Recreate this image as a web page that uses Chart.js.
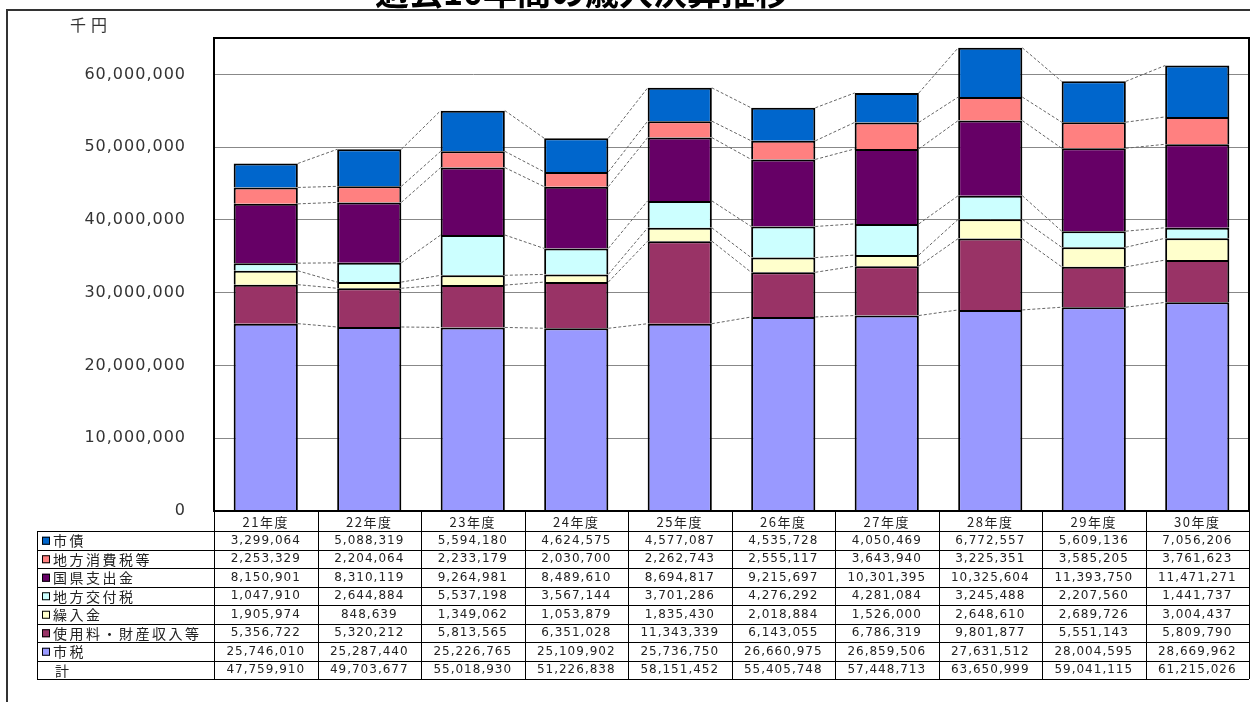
<!DOCTYPE html>
<html lang="ja">
<head>
<meta charset="utf-8">
<title>過去10年間の歳入決算推移</title>
<script src="https://cdn.jsdelivr.net/npm/chart.js@4.4.1/dist/chart.umd.min.js"></script>
<style>
  html, body { margin: 0; padding: 0; background: #fff; overflow: hidden; }
  canvas { display: block; }
</style>
</head>
<body>
<canvas id="revenueChart" width="1250" height="702"></canvas>
<script>
const years = ["21年度", "22年度", "23年度", "24年度", "25年度", "26年度", "27年度", "28年度", "29年度", "30年度"];
const shizei = [25746010, 25287440, 25226765, 25109902, 25736750, 26660975, 26859506, 27631512, 28004595, 28669962];
const shiyoryo = [5356722, 5320212, 5813565, 6351028, 11343339, 6143055, 6786319, 9801877, 5551143, 5809790];
const kurire = [1905974, 848639, 1349062, 1053879, 1835430, 2018884, 1526000, 2648610, 2689726, 3004437];
const chihoKofu = [1047910, 2644884, 5537198, 3567144, 3701286, 4276292, 4281084, 3245488, 2207560, 1441737];
const kokken = [8150901, 8310119, 9264981, 8489610, 8694817, 9215697, 10301395, 10325604, 11393750, 11471271];
const chihoShohi = [2253329, 2204064, 2233179, 2030700, 2262743, 2555117, 3643940, 3225351, 3585205, 3761623];
const shisai = [3299064, 5088319, 5594180, 4624575, 4577087, 4535728, 4050469, 6772557, 5609136, 7056206];
const totals = [47759910, 49703677, 55018930, 51226838, 58151452, 55405748, 57448713, 63650999, 59041115, 61215026];
const yTicks = [0, 10000000, 20000000, 30000000, 40000000, 50000000, 60000000];

const titleText = "過去10年間の歳入決算推移";
const unitText = "千円";
const cjkFont = "'Noto Sans CJK JP', 'Noto Sans', sans-serif";
const numFont = "'DejaVu Sans', sans-serif";

// bottom -> top stacking order
const series = [
  { name: "市税", color: "#9999FF", data: shizei },
  { name: "使用料・財産収入等", color: "#993366", data: shiyoryo },
  { name: "繰入金", color: "#FFFFCC", data: kurire },
  { name: "地方交付税", color: "#CCFFFF", data: chihoKofu },
  { name: "国県支出金", color: "#660066", data: kokken },
  { name: "地方消費税等", color: "#FF8080", data: chihoShohi },
  { name: "市債", color: "#0066CC", data: shisai },
];

const fmt = (v) => v.toLocaleString("en-US");

// dashed series lines joining the top of each segment between bars
const seriesLines = {
  id: "seriesLines",
  afterDatasetsDraw(chart) {
    const ctx = chart.ctx;
    ctx.save();
    ctx.strokeStyle = "#666";
    ctx.lineWidth = 1;
    ctx.setLineDash([3, 2]);
    chart.data.datasets.forEach((ds, d) => {
      const bars = chart.getDatasetMeta(d).data;
      for (let i = 0; i < bars.length - 1; i++) {
        const a = bars[i], b = bars[i + 1];
        ctx.beginPath();
        ctx.moveTo(a.x + a.width / 2, a.y);
        ctx.lineTo(b.x - b.width / 2, b.y);
        ctx.stroke();
      }
    });
    ctx.restore();
  },
};

// frame, title, unit label and the data table under the plot
const frameAndTable = {
  id: "frameAndTable",
  beforeDraw(chart) {
    chart.ctx.letterSpacing = "1px";
  },
  afterDraw(chart) {
    const ctx = chart.ctx;
    const ca = chart.chartArea;
    const xs = chart.scales.x;
    const n = years.length;
    ctx.save();

    // plot border
    ctx.strokeStyle = "#000";
    ctx.lineWidth = 2;
    ctx.strokeRect(ca.left, ca.top, ca.right - ca.left, ca.bottom - ca.top);

    // outer frame
    ctx.strokeStyle = "#333";
    ctx.lineWidth = 2;
    ctx.beginPath();
    ctx.moveTo(7, 702);
    ctx.lineTo(7, 10);
    ctx.lineTo(1250, 10);
    ctx.stroke();

    // title (cut off by the top edge as in the source)
    ctx.letterSpacing = "0px";
    ctx.fillStyle = "#000";
    ctx.font = "bold 34px " + cjkFont;
    ctx.textAlign = "center";
    ctx.textBaseline = "ideographic";
    ctx.fillText(titleText, 582, 9);

    // unit
    ctx.letterSpacing = "5px";
    ctx.font = "16px " + cjkFont;
    ctx.fillStyle = "#333";
    ctx.textAlign = "left";
    ctx.textBaseline = "middle";
    ctx.fillText(unitText, 70, 25);

    // table geometry
    const edges = [ca.left];
    for (let i = 0; i < n - 1; i++) {
      edges.push((xs.getPixelForValue(i) + xs.getPixelForValue(i + 1)) / 2);
    }
    edges.push(ca.right);
    const top = ca.bottom;
    const headH = 20;
    const rowH = 18.5;
    const labelLeft = 37;
    const rows = series.slice().reverse().concat([{ name: "計", color: null, data: totals }]);
    const bottom = top + headH + rows.length * rowH;

    ctx.strokeStyle = "#000";
    ctx.lineWidth = 1;
    ctx.setLineDash([]);
    ctx.beginPath();
    for (let r = 0; r <= rows.length; r++) {
      const y = Math.round(top + headH + r * rowH) + 0.5;
      ctx.moveTo(labelLeft, y);
      ctx.lineTo(ca.right, y);
    }
    ctx.moveTo(labelLeft + 0.5, top + headH);
    ctx.lineTo(labelLeft + 0.5, bottom);
    edges.forEach((x) => {
      ctx.moveTo(Math.round(x) + 0.5, top);
      ctx.lineTo(Math.round(x) + 0.5, bottom);
    });
    ctx.stroke();

    // header
    ctx.fillStyle = "#222";
    ctx.textAlign = "center";
    ctx.textBaseline = "middle";
    ctx.letterSpacing = "1.5px";
    ctx.font = "13px " + cjkFont;
    years.forEach((yr, i) => {
      ctx.fillText(yr, (edges[i] + edges[i + 1]) / 2, top + headH / 2 + 1);
    });

    // rows
    rows.forEach((row, r) => {
      const cy = top + headH + r * rowH + rowH / 2 + 0.5;
      if (row.color) {
        ctx.fillStyle = row.color;
        ctx.fillRect(42, cy - 4, 8, 8);
        ctx.strokeStyle = "#000";
        ctx.strokeRect(42.5, cy - 3.5, 7, 7);
      }
      ctx.fillStyle = "#222";
      ctx.textAlign = "left";
      ctx.letterSpacing = "2.5px";
      ctx.font = "14px " + cjkFont;
      ctx.fillText(row.name, row.color ? 53 : 55, cy);
      ctx.textAlign = "center";
      ctx.letterSpacing = "1px";
      ctx.font = "12px " + numFont;
      row.data.forEach((v, i) => {
        ctx.fillText(fmt(v), (edges[i] + edges[i + 1]) / 2, cy);
      });
    });

    ctx.restore();
  },
};

const ctx = document.getElementById("revenueChart").getContext("2d");
new Chart(ctx, {
  type: "bar",
  data: {
    labels: years,
    datasets: series.map((s) => ({
      label: s.name,
      data: s.data,
      backgroundColor: s.color,
      borderColor: "#000",
      borderWidth: 2,
      borderSkipped: "start",
      categoryPercentage: 1,
      barPercentage: 0.62,
    })),
  },
  options: {
    responsive: false,
    animation: false,
    devicePixelRatio: 1,
    layout: { padding: { top: 38, bottom: 191, left: 0, right: 1 } },
    plugins: {
      legend: { display: false },
      tooltip: { enabled: false },
      title: { display: false },
    },
    scales: {
      x: {
        stacked: true,
        display: false,
        offset: true,
        grid: { display: false },
      },
      y: {
        stacked: true,
        min: 0,
        max: 65000000,
        afterFit: (s) => { s.width = 214; },
        afterBuildTicks: (s) => { s.ticks = yTicks.map((v) => ({ value: v })); },
        ticks: {
          padding: 28,
          color: "#333",
          font: { family: "DejaVu Sans", size: 16 },
          callback: (v) => fmt(v),
        },
        grid: { color: "#888", lineWidth: 1, drawTicks: false },
        border: { display: true, color: "#000", width: 2 },
      },
    },
  },
  plugins: [seriesLines, frameAndTable],
});
</script>
</body>
</html>
